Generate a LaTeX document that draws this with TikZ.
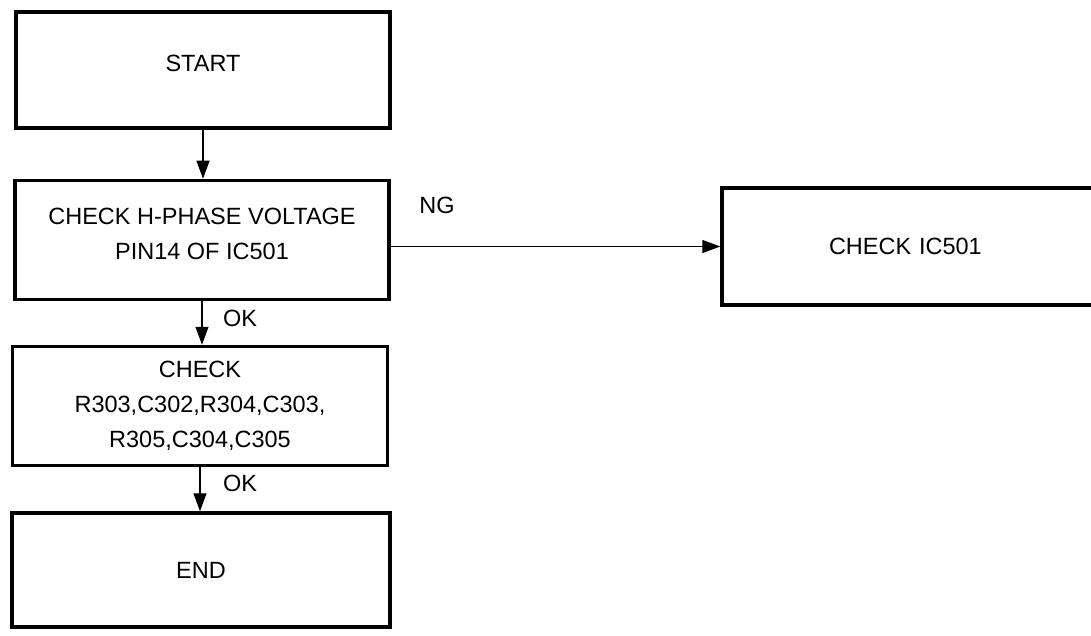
\documentclass[tikz,border=0pt]{standalone}
\usepackage{fontspec}
\setmainfont{Liberation Sans}
\usetikzlibrary{arrows.meta}
\begin{document}
\begin{tikzpicture}[x=1pt,y=-1pt,
  box/.style={draw, line width=3.5pt, minimum width=#1, inner sep=0pt, align=center,
    font=\fontsize{23.5}{35}\selectfont},
  box/.default=374pt,
  arr/.style={line width=1.2pt, -{Triangle[length=18pt,width=13pt]}},
  lab/.style={font=\fontsize{23.5}{28}\selectfont, inner sep=0pt}]
\useasboundingbox (0,0) rectangle (1091,636);
\node[box=374pt, minimum height=116pt, text depth=14pt] (start) at (203,70) {START};
\node[box=374pt, minimum height=119pt, text depth=13pt] (b2) at (202,240) {CHECK H-PHASE VOLTAGE\\PIN14 OF IC501};
\node[box=375pt, minimum height=119pt] (b3) at (200,406) {CHECK\\R303,C302,R304,C303,\\R305,C304,C305};
\node[box=378pt, minimum height=114pt] (end) at (201,570) {END};
\node[box=380pt, minimum height=117pt, text width=366pt, align=left, text depth=0pt] (ic) at (912,246.5) {\hspace*{100pt}CHECK IC501};
\node[lab] (ng) at (437,205) {NG};
\node[lab] (ok1) at (240,318) {OK};
\node[lab] (ok2) at (240,483) {OK};
\draw[arr] (start.south) -- (start.south |- b2.north);
\draw[arr] (b2.south) -- (b2.south |- b3.north);
\draw[arr] (b3.south) -- (b3.south |- end.north);
\draw[arr] (b2.east |- ic.west) -- (ic.west);
\end{tikzpicture}
\end{document}
